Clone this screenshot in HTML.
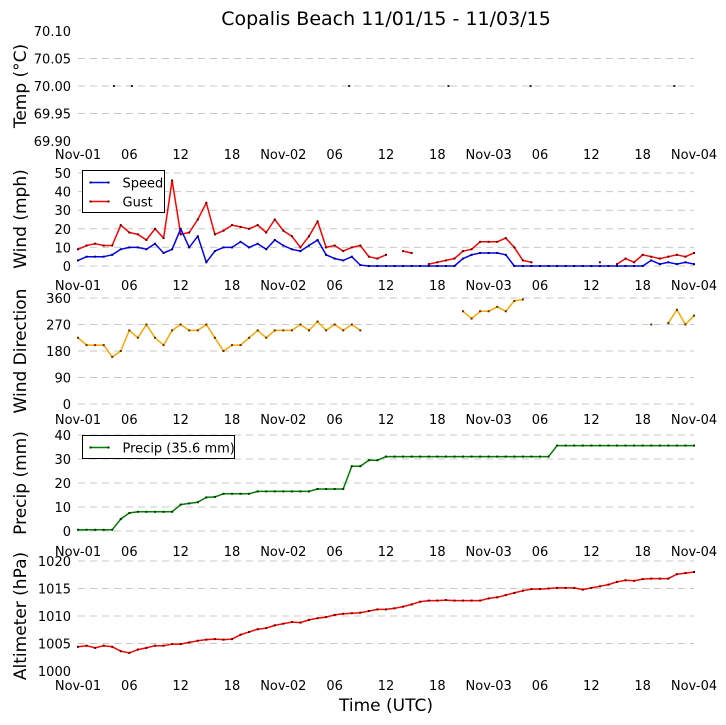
<!DOCTYPE html>
<html><head><meta charset="utf-8">
<style>
html,body{margin:0;padding:0;background:#fff;}
svg{display:block;font-family:"DejaVu Sans","Liberation Sans",sans-serif;}
</style></head>
<body>
<svg id="chart" width="726" height="725" viewBox="0 0 726 725" xmlns="http://www.w3.org/2000/svg">
<text x="386" y="25" font-size="19" text-anchor="middle">Copalis Beach 11/01/15 - 11/03/15</text>
<text x="386" y="711" font-size="17" text-anchor="middle">Time (UTC)</text>
</svg>
<script>
// ---- data (hourly, hour 0 = Nov-01 00 UTC) ----
const xTickLabels = ["Nov-01","06","12","18","Nov-02","06","12","18","Nov-03","06","12","18","Nov-04"];
const xTickHours = [0,6,12,18,24,30,36,42,48,54,60,66,72];
const tempHours = [4.2,6.3,31.7,43.3,52.9,69.7];
const tempValues = [70.0,70.0,70.0,70.0,70.0,70.0];
const speedValues = [3,5,5,5,6,9,10,10,9,12,7,9,20,10,16,2,8,10,10,13,10,12,9,14,11,9,8,11,14,6,4,3,5,0.5,0,0,0,0,0,0,0,0,0,0,0,4,6,7,7,7,6,0,0,0,0,0,0,0,0,0,0,0,0,0,0,0,0,3,1,2,1,2,1];
const gustValues = [9,11,12,11,11,22,18,17,14,20,15,46,17,18,25,34,17,19,22,21,20,22,18,25,19,16,10,16,24,10,11,8,10,11,5,4,6,null,8,7,null,1,2,3,4,8,9,13,13,13,15,10,3,2,null,null,null,null,null,null,null,2,null,1,4,2,6,5,4,5,6,5,7];
const dirValues = [225,200,200,200,160,180,250,225,270,225,200,250,270,250,250,270,225,180,200,200,225,250,225,250,250,250,270,250,280,250,270,250,270,250,null,null,null,null,null,null,null,null,null,null,null,315,290,315,315,330,315,350,355,null,null,null,null,null,null,null,null,null,null,null,null,null,null,270,null,275,320,270,300];
const precipValues = [0.5,0.5,0.5,0.5,0.5,5,7.5,8,8,8,8,8,11,11.5,12,14,14.2,15.5,15.5,15.5,15.5,16.5,16.5,16.5,16.5,16.5,16.5,16.5,17.5,17.5,17.5,17.5,27,27,29.5,29.5,31,31,31,31,31,31,31,31,31,31,31,31,31,31,31,31,31,31,31,31,35.6,35.6,35.6,35.6,35.6,35.6,35.6,35.6,35.6,35.6,35.6,35.6,35.6,35.6,35.6,35.6,35.6];
const altValues = [1004.4,1004.6,1004.2,1004.6,1004.4,1003.6,1003.3,1003.9,1004.2,1004.6,1004.6,1004.9,1004.9,1005.2,1005.5,1005.7,1005.8,1005.7,1005.8,1006.6,1007.1,1007.6,1007.8,1008.3,1008.6,1008.9,1008.8,1009.3,1009.6,1009.8,1010.2,1010.4,1010.5,1010.6,1010.9,1011.2,1011.2,1011.4,1011.7,1012.1,1012.6,1012.8,1012.8,1012.9,1012.8,1012.8,1012.8,1012.8,1013.2,1013.4,1013.8,1014.2,1014.6,1014.9,1014.9,1015.0,1015.1,1015.1,1015.1,1014.8,1015.1,1015.4,1015.7,1016.2,1016.5,1016.4,1016.7,1016.8,1016.8,1016.8,1017.6,1017.8,1018.0];
const tempTicks = [69.90,69.95,70.00,70.05,70.10];
const windTicks = [0,10,20,30,40,50];
const dirTicks = [0,90,180,270,360];
const precipTicks = [0,10,20,30,40];
const altTicks = [1000,1005,1010,1015,1020];

const svg = document.getElementById('chart');
const NS = 'http://www.w3.org/2000/svg';
const X0 = 78, X1 = 694;
function xScale(h){ return X0 + (X1 - X0) * h / 72; }
function mk(tag, attrs, parent){
  const e = document.createElementNS(NS, tag);
  for (const k in attrs) e.setAttribute(k, attrs[k]);
  (parent || svg).appendChild(e);
  return e;
}
function makeY(v0, v1, yBottom, yTop){ return v => yBottom + (v - v0) / (v1 - v0) * (yTop - yBottom); }

function panel(name, ticks, yFn, labelRowY, ylabel, ylabelY, fmt, skipGrid){
  const g = mk('g', {});
  
  
  ticks.forEach((t, i) => {
    const y = yFn(t);
    if (!skipGrid.includes(i)) {
      const l = mk('line', {x1: X0, x2: X1, y1: y, y2: y, stroke: '#c8c8c8', 'stroke-width': 1, 'stroke-dasharray': '7,5'}, g);
      
      
    }
    const tx = mk('text', {x: 71, y: y + 5, 'font-size': 13, 'text-anchor': 'end'}, g);
    
    
    tx.textContent = fmt(t);
  });
  xTickHours.forEach((h, i) => {
    const tx = mk('text', {x: xScale(h), y: labelRowY + 5, 'font-size': 13, 'text-anchor': 'middle'}, g);
    
    
    tx.textContent = xTickLabels[i];
  });
  const yl = mk('text', {x: 0, y: 0, 'font-size': 17, 'text-anchor': 'middle', transform: 'translate(26,' + ylabelY + ') rotate(-90)'}, g);
  
  
  yl.textContent = ylabel;
  return g;
}

function series(name, values, yFn, color, mcolor, step){
  const g = mk('g', {});
  
  
  let seg = [];
  const flush = () => {
    if (seg.length > 1) {
      let d = '';
      seg.forEach((p, i) => { d += (i ? 'L' : 'M') + p[0].toFixed(1) + ',' + p[1].toFixed(1); });
      const path = mk('path', {d: d, fill: 'none', stroke: color, 'stroke-width': 1.5, 'stroke-linejoin': 'round'}, g);
      
      
    }
    seg = [];
  };
  values.forEach((v, h) => {
    if (v === null) { flush(); return; }
    seg.push([xScale(h), yFn(v)]);
  });
  flush();
  values.forEach((v, h) => {
    if (v === null) return;
    const r = mk('rect', {x: xScale(h) - 1, y: yFn(v) - 1, width: 2, height: 2, fill: mcolor}, g);
    
    
  });
}

// Temperature
const yT = makeY(69.90, 70.10, 141, 31);
panel('temp', tempTicks, yT, 154, 'Temp (\u00B0C)', 86, v => v.toFixed(2), [0, 4]);
tempHours.forEach((h, i) => {
  const r = mk('rect', {x: xScale(h) - 1, y: yT(tempValues[i]) - 1, width: 2, height: 2, fill: '#222'});
  
  
});

// Wind
const yW = makeY(0, 50, 266, 173);
panel('wind', windTicks, yW, 285, 'Wind (mph)', 219, v => String(v), []);
series('gust', gustValues, yW, '#ff0000', '#5a0000');
series('speed', speedValues, yW, '#0000ff', '#000050');

// Wind direction
const yD = makeY(0, 360, 404, 298);
panel('wind-direction', dirTicks, yD, 419, 'Wind Direction', 351, v => String(v), []);
series('wind-direction', dirValues, yD, '#ffa500', '#5a3000');

// Precip
const yP = makeY(0, 40, 531, 435);
panel('precip', precipTicks, yP, 551, 'Precip (mm)', 483, v => String(v), []);
series('precip', precipValues, yP, '#008000', '#003000');

// Altimeter
const yA = makeY(1000, 1020, 671, 561);
panel('altimeter', altTicks, yA, 685, 'Altimeter (hPa)', 616, v => String(v), [0]);
series('altimeter', altValues, yA, '#ff0000', '#500000');

// Legends
function legend(name, x, y, w, h, items){
  const g = mk('g', {});
  
  
  mk('rect', {x: x, y: y, width: w, height: h, fill: '#fff', stroke: '#000', 'stroke-width': 1}, g);
  items.forEach((it, i) => {
    const cy = y + 12 + i * 19;
    const l = mk('line', {x1: x + 7, x2: x + 27, y1: cy, y2: cy, stroke: it[1], 'stroke-width': 1.5}, g);
    
    
    mk('rect', {x: x + 7, y: cy - 1, width: 2, height: 2, fill: it[2]}, g);
    mk('rect', {x: x + 25, y: cy - 1, width: 2, height: 2, fill: it[2]}, g);
    const t = mk('text', {x: x + 40, y: cy + 5, 'font-size': 13}, g);
    
    
    t.textContent = it[0];
  });
}
legend('wind-legend', 82.5, 170.5, 82, 42, [['Speed', '#0000ff', '#000050'], ['Gust', '#ff0000', '#5a0000']]);
legend('precip-legend', 82.5, 435.5, 152, 23, [['Precip (35.6 mm)', '#008000', '#003000']]);
</script>
</body></html>
